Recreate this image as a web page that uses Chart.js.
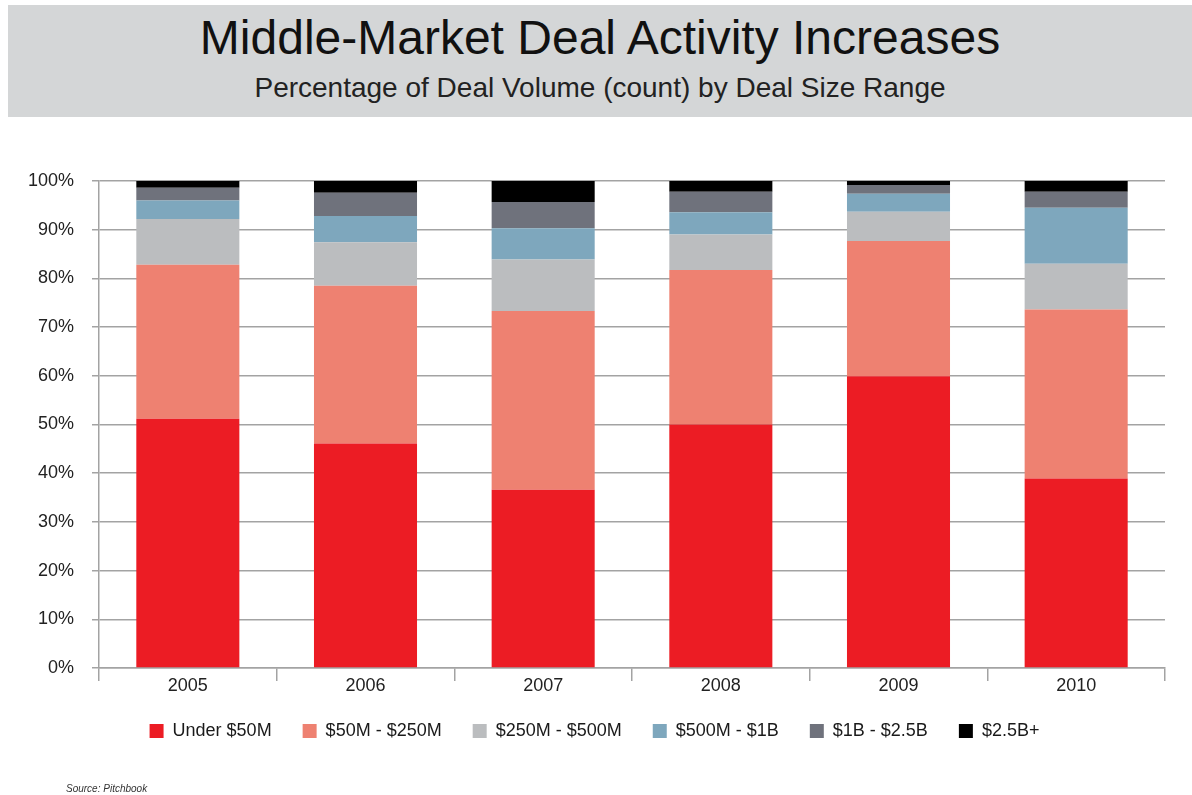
<!DOCTYPE html>
<html>
<head>
<meta charset="utf-8">
<script src="https://cdn.jsdelivr.net/npm/chart.js@4.4.1/dist/chart.umd.min.js"></script>
<style>
  html, body { margin: 0; padding: 0; background: #fff; }
  body { width: 1192px; height: 795px; position: relative; overflow: hidden; font-family: "Liberation Sans", Arial, sans-serif; }
  .header { position: absolute; left: 8px; top: 5px; width: 1184px; height: 112px; background: #d4d6d7; }
  .header h1 { position: absolute; left: 0; right: 0; top: 9px; margin: 0; line-height: 48px; text-align: center; font-weight: normal; font-size: 48px; color: #111; }
  .header h2 { position: absolute; left: 0; right: 0; top: 68px; margin: 0; line-height: 30px; text-align: center; font-weight: normal; font-size: 28px; color: #222; }
  .source { position: absolute; left: 66px; top: 783px; font-size: 10px; font-style: italic; color: #333; }
  #wrap { position: absolute; left: 0; top: 0; width: 1192px; height: 795px; }
</style>
</head>
<body>
<div class="header">
  <h1>Middle-Market Deal Activity Increases</h1>
  <h2>Percentage of Deal Volume (count) by Deal Size Range</h2>
</div>
<div id="wrap"><canvas id="dealChart"></canvas></div>
<div class="source">Source: Pitchbook</div>
<script>
const years = ['2005', '2006', '2007', '2008', '2009', '2010'];

// share of deal count per size range, in percent
const under50M   = [51.2, 46.1, 36.6, 50.0, 59.9, 38.9];
const m50to250M  = [31.6, 32.4, 36.7, 31.7, 27.8, 34.7];
const m250to500M = [9.4, 8.9, 10.6, 7.3, 6.0, 9.4];
const m500to1B   = [3.8, 5.4, 6.4, 4.6, 3.7, 11.5];
const b1to2_5B   = [2.6, 4.8, 5.4, 4.2, 1.8, 3.3];
const b2_5Plus   = [1.4, 2.4, 4.3, 2.2, 0.8, 2.2];

const yTicks = [0, 10, 20, 30, 40, 50, 60, 70, 80, 90, 100];

const series = [
    { label: 'Under $50M', data: under50M, color: '#ec1c24' },
    { label: '$50M - $250M', data: m50to250M, color: '#ee8171' },
    { label: '$250M - $500M', data: m250to500M, color: '#bbbdbf' },
    { label: '$500M - $1B', data: m500to1B, color: '#7ea7bd' },
    { label: '$1B - $2.5B', data: b1to2_5B, color: '#6f727c' },
    { label: '$2.5B+', data: b2_5Plus, color: '#000000' },
];

const gridGray = '#a3a3a3';
const font = '"Liberation Sans", Arial, sans-serif';

const ctx = document.getElementById('dealChart').getContext('2d');
const chart = new Chart(ctx, {
    type: 'bar',
    data: {
        labels: years,
        datasets: series.map(s => ({
            label: s.label,
            data: s.data,
            backgroundColor: s.color,
            borderWidth: 0,
            barPercentage: 0.58,
            categoryPercentage: 1.0,
        })),
    },
    options: {
        responsive: true,
        maintainAspectRatio: false,
        animation: false,
        // left padding nudges the legend right; y axis width keeps the plot edge at x=99
        layout: { padding: { top: 181, left: 24, right: 27, bottom: 45 } },
        plugins: {
            tooltip: { enabled: false },
            legend: {
                position: 'bottom',
                labels: {
                    boxWidth: 14,
                    boxHeight: 14,
                    padding: 31,
                    color: '#1a1a1a',
                    font: { family: font, size: 18, lineHeight: 1.0 },
                },
            },
        },
        scales: {
            x: {
                stacked: true,
                grid: {
                    offset: true,
                    drawOnChartArea: false,
                    drawTicks: true,
                    tickLength: 13,
                    color: gridGray,
                    lineWidth: 1.5,
                },
                border: { color: gridGray, width: 1.5 },
                ticks: {
                    color: '#222',
                    padding: -4,
                    font: { family: font, size: 18, lineHeight: 1.0 },
                },
            },
            y: {
                stacked: true,
                min: 0,
                max: 100,
                afterBuildTicks: scale => { scale.ticks = yTicks.map(v => ({ value: v })); },
                grid: {
                    color: gridGray,
                    lineWidth: 1.5,
                    tickLength: 7,
                },
                border: { color: gridGray, width: 1.5 },
                ticks: {
                    color: '#222',
                    padding: 18,
                    font: { family: font, size: 18 },
                    callback: v => v + '%',
                },
                afterFit: scale => { scale.width = 75; },
            },
        },
    },
});
</script>
</body>
</html>
